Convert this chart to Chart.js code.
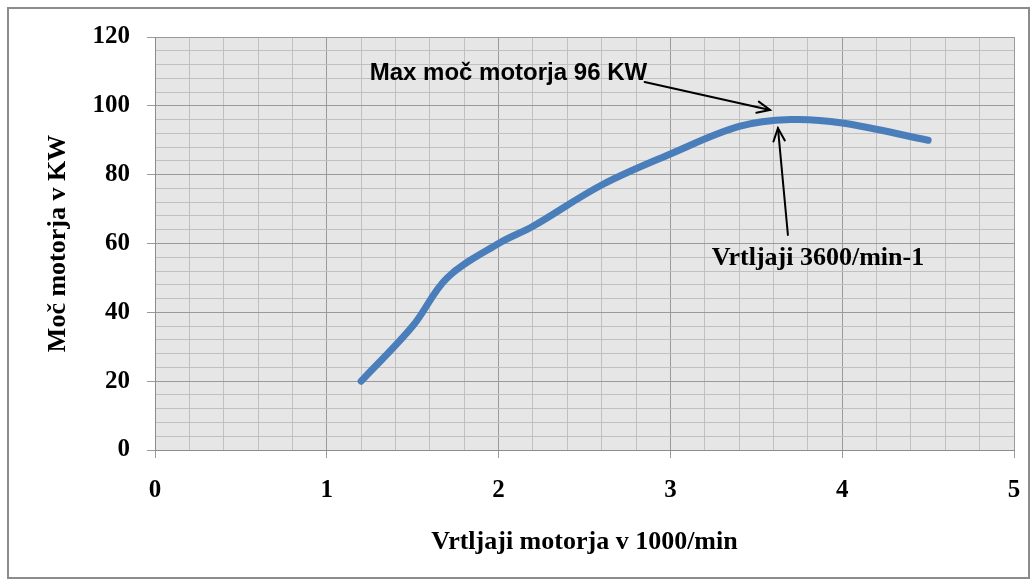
<!DOCTYPE html>
<html lang="sl">
<head>
<meta charset="UTF-8">
<title>Moč motorja</title>
<script src="https://cdn.jsdelivr.net/npm/chart.js"></script>
<style>
  html, body { margin: 0; padding: 0; background: #fff; }
  #okvir { width: 1032px; height: 580px; }
</style>
</head>
<body>
<div id="okvir"><canvas id="graf" width="1032" height="580"></canvas></div>

<script>
    // podatki (odčitani iz grafa)
    const vrtljaji = [1.2, 1.5, 1.7, 2.0, 2.2, 2.6, 3.0, 3.4, 3.7, 4.0, 4.5];
    const moc = [20, 36, 50, 60, 65, 77, 86, 94, 96, 95, 90];

    const xOznake = [0, 1, 2, 3, 4, 5];
    const yOznake = [0, 20, 40, 60, 80, 100, 120];

    // opombe na grafu, v koordinatah podatkov
    const opombe = [
        { besedilo: 'Max moč motorja 96 KW', x: 1.25, y: 109.5, font: 'bold 24px "Liberation Sans", Arial, sans-serif' },
        { besedilo: 'Vrtljaji 3600/min-1', x: 3.24, y: 55.8, font: 'bold 26px "Liberation Serif", "Times New Roman", serif' }
    ];
    const puscice = [
        { x1: 2.85, y1: 106.9, x2: 3.58, y2: 98.8 },
        { x1: 3.684, y1: 62.5, x2: 3.626, y2: 93.5 }
    ];

    const serif = '"Liberation Serif", "Times New Roman", serif';

    function jeGlavna(v, korak) {
        const k = v / korak;
        return Math.abs(k - Math.round(k)) < 1e-6;
    }

    const ozadje = {
        id: 'ozadje',
        beforeDraw(chart) {
            const { ctx, chartArea: a } = chart;
            ctx.save();
            ctx.fillStyle = '#ffffff';
            ctx.fillRect(0, 0, chart.width, chart.height);
            ctx.strokeStyle = '#8c8c8c';
            ctx.lineWidth = 2;
            ctx.strokeRect(8, 8, chart.width - 11, chart.height - 10);
            ctx.fillStyle = '#e6e6e6';
            ctx.fillRect(a.left, a.top, a.right - a.left, a.bottom - a.top);
            ctx.restore();
        }
    };

    function puscica(ctx, x1, y1, x2, y2) {
        ctx.beginPath();
        ctx.moveTo(x1, y1);
        ctx.lineTo(x2, y2);
        ctx.stroke();
        const kot = Math.atan2(y2 - y1, x2 - x1);
        const L = 14, w = 0.42;
        ctx.beginPath();
        ctx.moveTo(x2 - L * Math.cos(kot - w), y2 - L * Math.sin(kot - w));
        ctx.lineTo(x2, y2);
        ctx.lineTo(x2 - L * Math.cos(kot + w), y2 - L * Math.sin(kot + w));
        ctx.stroke();
    }

    const napisi = {
        id: 'napisi',
        afterDatasetsDraw(chart) {
            const { ctx, scales: { x, y } } = chart;
            ctx.save();
            ctx.strokeStyle = '#000';
            ctx.lineWidth = 2;
            ctx.lineCap = 'round';
            puscice.forEach(p => {
                puscica(ctx, x.getPixelForValue(p.x1), y.getPixelForValue(p.y1),
                    x.getPixelForValue(p.x2), y.getPixelForValue(p.y2));
            });
            ctx.fillStyle = '#000';
            ctx.textBaseline = 'middle';
            ctx.textAlign = 'left';
            opombe.forEach(o => {
                ctx.font = o.font;
                ctx.fillText(o.besedilo, x.getPixelForValue(o.x), y.getPixelForValue(o.y));
            });
            ctx.restore();
        }
    };

    const tocke = vrtljaji.map((v, i) => ({ x: v, y: moc[i] }));

    new Chart(document.getElementById('graf'), {
        type: 'line',
        data: {
            datasets: [{
                label: 'Moč motorja',
                data: tocke,
                borderColor: '#4a7ebb',
                borderWidth: 7,
                borderCapStyle: 'round',
                borderJoinStyle: 'round',
                pointRadius: 0,
                tension: 0.35,
                fill: false
            }]
        },
        options: {
            responsive: false,
            animation: false,
            devicePixelRatio: 1,
            layout: { padding: { top: 37, right: 18, bottom: 0, left: 0 } },
            plugins: {
                legend: { display: false },
                tooltip: { enabled: false }
            },
            scales: {
                x: {
                    type: 'linear',
                    min: xOznake[0],
                    max: xOznake[xOznake.length - 1],
                    afterFit: s => {
                        s.height = 130;
                        s.paddingLeft = 0;
                        s.paddingRight = 0;
                    },
                    border: { color: '#8c8c8c', width: 1 },
                    grid: {
                        color: c => jeGlavna(c.tick.value, 1) ? '#9a9a9a' : '#c0c0c0',
                        tickColor: c => jeGlavna(c.tick.value, 1) ? '#9a9a9a' : 'rgba(0,0,0,0)',
                        tickLength: 8,
                        lineWidth: 1
                    },
                    ticks: {
                        stepSize: 0.2,
                        autoSkip: false,
                        maxRotation: 0,
                        padding: 18,
                        color: '#000',
                        font: { family: serif, size: 25, weight: 'bold' },
                        callback: v => (jeGlavna(v, 1) && xOznake.includes(Math.round(v))) ? String(Math.round(v)) : ''
                    },
                    title: {
                        display: true,
                        text: 'Vrtljaji motorja v 1000/min',
                        color: '#000',
                        font: { family: serif, size: 26, weight: 'bold' },
                        padding: { top: 0, bottom: 22 }
                    }
                },
                y: {
                    min: yOznake[0],
                    max: yOznake[yOznake.length - 1],
                    afterFit: s => { s.width = 155; },
                    border: { color: '#8c8c8c', width: 1 },
                    grid: {
                        color: c => jeGlavna(c.tick.value, 20) ? '#9a9a9a' : '#c0c0c0',
                        tickColor: c => jeGlavna(c.tick.value, 20) ? '#9a9a9a' : 'rgba(0,0,0,0)',
                        tickLength: 8,
                        lineWidth: 1
                    },
                    ticks: {
                        stepSize: 4,
                        autoSkip: false,
                        padding: 17,
                        color: '#000',
                        font: { family: serif, size: 25, weight: 'bold' },
                        callback: v => (jeGlavna(v, 20) && yOznake.includes(Math.round(v))) ? String(Math.round(v)) : ''
                    },
                    title: {
                        display: true,
                        text: 'Moč motorja v KW',
                        color: '#000',
                        font: { family: serif, size: 26, weight: 'bold' },
                        padding: { top: 43, bottom: 0 }
                    }
                }
            }
        },
        plugins: [ozadje, napisi]
    });
</script>
</body>
</html>
